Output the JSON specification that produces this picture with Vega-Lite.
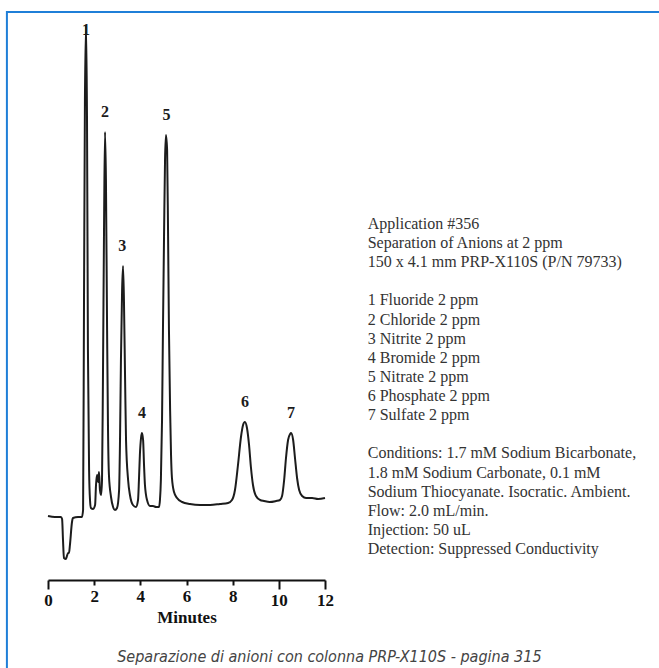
{
  "$schema": "https://vega.github.io/schema/vega-lite/v6.json",
  "width": 277,
  "height": 560,
  "autosize": {"type": "none"},
  "padding": {"left": 48, "top": 20, "right": 334, "bottom": 88},
  "background": "white",
  "config": {"view": {"stroke": null}},
  "datasets": {
    "signal": [
      {"t": 0.0, "v": 1}, {"t": 0.3, "v": 0}, {"t": 0.56, "v": 0}, {"t": 0.61, "v": -2},
      {"t": 0.65, "v": -23}, {"t": 0.69, "v": -41}, {"t": 0.78, "v": -42}, {"t": 0.82, "v": -39},
      {"t": 0.87, "v": -36}, {"t": 0.91, "v": -36}, {"t": 0.95, "v": -28}, {"t": 1.04, "v": -5},
      {"t": 1.08, "v": -1}, {"t": 1.3, "v": 0}, {"t": 1.47, "v": 0}, {"t": 1.52, "v": 7},
      {"t": 1.56, "v": 217}, {"t": 1.6, "v": 417}, {"t": 1.65, "v": 492}, {"t": 1.69, "v": 397},
      {"t": 1.73, "v": 167}, {"t": 1.78, "v": 47}, {"t": 1.82, "v": 17}, {"t": 1.86, "v": 9},
      {"t": 1.95, "v": 8}, {"t": 2.04, "v": 12}, {"t": 2.08, "v": 32}, {"t": 2.12, "v": 42},
      {"t": 2.17, "v": 35}, {"t": 2.21, "v": 45}, {"t": 2.25, "v": 27}, {"t": 2.3, "v": 22},
      {"t": 2.34, "v": 37}, {"t": 2.38, "v": 137}, {"t": 2.43, "v": 297}, {"t": 2.47, "v": 385},
      {"t": 2.51, "v": 337}, {"t": 2.56, "v": 187}, {"t": 2.6, "v": 87}, {"t": 2.64, "v": 42},
      {"t": 2.73, "v": 20}, {"t": 2.82, "v": 10}, {"t": 2.9, "v": 7}, {"t": 2.99, "v": 9},
      {"t": 3.08, "v": 27}, {"t": 3.12, "v": 77}, {"t": 3.16, "v": 157}, {"t": 3.21, "v": 227},
      {"t": 3.25, "v": 251}, {"t": 3.29, "v": 217}, {"t": 3.34, "v": 137}, {"t": 3.38, "v": 77},
      {"t": 3.47, "v": 37}, {"t": 3.55, "v": 22}, {"t": 3.68, "v": 12}, {"t": 3.81, "v": 10},
      {"t": 3.9, "v": 17}, {"t": 3.94, "v": 37}, {"t": 3.98, "v": 62}, {"t": 4.03, "v": 79},
      {"t": 4.07, "v": 84}, {"t": 4.12, "v": 77}, {"t": 4.16, "v": 52}, {"t": 4.2, "v": 32},
      {"t": 4.29, "v": 17}, {"t": 4.42, "v": 11}, {"t": 4.55, "v": 11}, {"t": 4.68, "v": 10},
      {"t": 4.81, "v": 10}, {"t": 4.85, "v": 17}, {"t": 4.89, "v": 37}, {"t": 4.94, "v": 97},
      {"t": 4.98, "v": 187}, {"t": 5.03, "v": 287}, {"t": 5.07, "v": 357}, {"t": 5.11, "v": 382},
      {"t": 5.16, "v": 367}, {"t": 5.2, "v": 287}, {"t": 5.24, "v": 187}, {"t": 5.29, "v": 107},
      {"t": 5.33, "v": 62}, {"t": 5.37, "v": 39}, {"t": 5.46, "v": 25}, {"t": 5.59, "v": 19},
      {"t": 5.81, "v": 15}, {"t": 6.15, "v": 13}, {"t": 6.59, "v": 12}, {"t": 7.02, "v": 12},
      {"t": 7.45, "v": 13}, {"t": 7.8, "v": 14}, {"t": 7.97, "v": 17}, {"t": 8.1, "v": 27},
      {"t": 8.23, "v": 52}, {"t": 8.36, "v": 80}, {"t": 8.45, "v": 92}, {"t": 8.53, "v": 95},
      {"t": 8.62, "v": 89}, {"t": 8.71, "v": 72}, {"t": 8.79, "v": 50}, {"t": 8.88, "v": 32},
      {"t": 9.01, "v": 21}, {"t": 9.19, "v": 17}, {"t": 9.36, "v": 16}, {"t": 9.6, "v": 15},
      {"t": 9.88, "v": 16}, {"t": 10.05, "v": 17}, {"t": 10.14, "v": 21}, {"t": 10.23, "v": 37},
      {"t": 10.31, "v": 59}, {"t": 10.4, "v": 77}, {"t": 10.49, "v": 83}, {"t": 10.53, "v": 84},
      {"t": 10.62, "v": 77}, {"t": 10.7, "v": 59}, {"t": 10.79, "v": 39}, {"t": 10.88, "v": 27},
      {"t": 11.01, "v": 21}, {"t": 11.18, "v": 19}, {"t": 11.44, "v": 19}, {"t": 11.7, "v": 18},
      {"t": 12.0, "v": 19}
    ],
    "peaks": [
      {"label": "1", "t": 1.65, "h": 492},
      {"label": "2", "t": 2.47, "h": 385},
      {"label": "3", "t": 3.22, "h": 251},
      {"label": "4", "t": 4.07, "h": 84},
      {"label": "5", "t": 5.13, "h": 382},
      {"label": "6", "t": 8.53, "h": 95},
      {"label": "7", "t": 10.53, "h": 84}
    ],
    "info": [
      {"line": 0, "text": "Application #356"},
      {"line": 1, "text": "Separation of Anions at 2 ppm"},
      {"line": 2, "text": "150 x 4.1 mm PRP-X110S (P/N 79733)"},
      {"line": 4, "text": "1 Fluoride 2 ppm"},
      {"line": 5, "text": "2 Chloride 2 ppm"},
      {"line": 6, "text": "3 Nitrite 2 ppm"},
      {"line": 7, "text": "4 Bromide 2 ppm"},
      {"line": 8, "text": "5 Nitrate 2 ppm"},
      {"line": 9, "text": "6 Phosphate 2 ppm"},
      {"line": 10, "text": "7 Sulfate 2 ppm"},
      {"line": 12, "text": "Conditions: 1.7 mM Sodium Bicarbonate,"},
      {"line": 13, "text": "1.8 mM Sodium Carbonate, 0.1 mM"},
      {"line": 14, "text": "Sodium Thiocyanate. Isocratic. Ambient."},
      {"line": 15, "text": "Flow: 2.0 mL/min."},
      {"line": 16, "text": "Injection: 50 uL"},
      {"line": 17, "text": "Detection: Suppressed Conductivity"}
    ],
    "caption": [
      {"text": "Separazione di anioni con colonna PRP-X110S - pagina 315"}
    ]
  },
  "layer": [
    {
      "layer": [
        {
          "data": {"values": [{"frame": "border"}]},
          "mark": {"type": "rect", "fill": "transparent", "stroke": "#1f7fd8", "strokeWidth": 2, "clip": false},
          "encoding": {
            "x": {"datum": -1.78, "type": "quantitative", "scale": {"domain": [0, 12], "nice": false, "zero": false}},
            "x2": {"datum": 60},
            "y": {"datum": 505, "type": "quantitative", "scale": {"domain": [-63, 497], "nice": false, "zero": false}, "axis": null},
            "y2": {"datum": -1000}
          }
        },
        {
          "data": {"name": "signal"},
          "mark": {"type": "line", "color": "#1c1c1c", "strokeWidth": 2, "interpolate": "monotone", "clip": false},
          "encoding": {
            "x": {
              "field": "t", "type": "quantitative",
              "scale": {"domain": [0, 12], "nice": false, "zero": false},
              "axis": {
                "values": [0, 1, 2, 3, 4, 5, 6, 7, 8, 9, 10, 11, 12],
                "labelExpr": "datum.value % 2 == 0 ? datum.label : ''",
                "title": "Minutes",
                "grid": false,
                "domainColor": "#111111",
                "domainWidth": 2,
                "tickColor": "#111111",
                "tickWidth": 2,
                "tickSize": {"condition": {"test": "datum.value == 0 || datum.value == 10 || datum.value == 12", "value": 9}, "value": 5},
                "labelFont": "Liberation Serif",
                "labelFontWeight": "bold",
                "labelFontSize": 17,
                "labelColor": "#111111",
                "labelPadding": 3,
                "labelFlush": false,
                "labelOverlap": false,
                "titleFont": "Liberation Serif",
                "titleFontWeight": "bold",
                "titleFontSize": 17,
                "titleColor": "#111111",
                "titlePadding": 1
              }
            },
            "y": {"field": "v", "type": "quantitative", "scale": {"domain": [-63, 497], "nice": false, "zero": false}, "axis": null}
          }
        },
        {
          "data": {"name": "peaks"},
          "transform": [{"calculate": "min(datum.h + 20, 487)", "as": "ly"}],
          "mark": {"type": "text", "font": "Liberation Serif", "fontWeight": "bold", "fontSize": 16, "color": "#1c1c1c", "baseline": "middle", "align": "center", "clip": false},
          "encoding": {
            "x": {"field": "t", "type": "quantitative", "scale": {"domain": [0, 12], "nice": false, "zero": false}},
            "y": {"field": "ly", "type": "quantitative", "scale": {"domain": [-63, 497], "nice": false, "zero": false}, "axis": null},
            "text": {"field": "label"}
          }
        },
        {
          "data": {"name": "caption"},
          "mark": {"type": "text", "font": "'DejaVu Sans Condensed', 'Liberation Sans Narrow', 'Roboto Condensed', Roboto, sans-serif", "fontStyle": "italic", "fontWeight": "normal", "fontSize": 16, "color": "#444444", "baseline": "middle", "align": "center", "clip": false},
          "encoding": {
            "x": {"datum": 12.19, "type": "quantitative", "scale": {"domain": [0, 12], "nice": false, "zero": false}},
            "y": {"datum": -140, "type": "quantitative", "scale": {"domain": [-63, 497], "nice": false, "zero": false}, "axis": null},
            "text": {"field": "text"}
          }
        }
      ]
    },
    {
      "data": {"name": "info"},
      "mark": {"type": "text", "font": "Liberation Serif", "fontSize": 16, "color": "#333333", "align": "left", "baseline": "middle", "clip": false},
      "encoding": {
        "x": {"datum": 13.85, "type": "quantitative", "scale": {"domain": [0, 12], "nice": false, "zero": false}},
        "y": {"field": "line", "type": "quantitative", "scale": {"domain": [0, 17], "range": [204, 529], "nice": false, "zero": false}, "axis": null},
        "text": {"field": "text"}
      }
    }
  ],
  "resolve": {"scale": {"y": "independent"}}
}
